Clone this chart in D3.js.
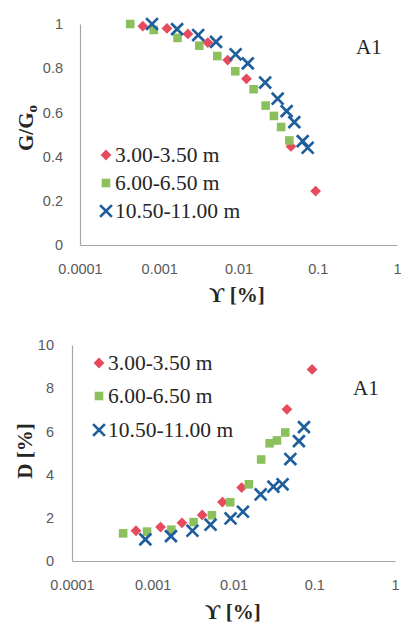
<!DOCTYPE html>
<html>
<head>
<meta charset="utf-8">
<script src="https://cdn.jsdelivr.net/npm/d3@7"></script>
<style>
  html, body { margin: 0; padding: 0; background: #ffffff; }
  svg { display: block; }
</style>
</head>
<body>
<svg id="chart" width="403" height="623"></svg>
<script>
// ---------------- data ----------------
const seriesNames = ["3.00-3.50 m", "6.00-6.50 m", "10.50-11.00 m"];
const panelLabel = "A1";

const xTickValues = [0.0001, 0.001, 0.01, 0.1, 1];
const xTickLabels = ["0.0001", "0.001", "0.01", "0.1", "1"];
const ggoTickValues = [0, 0.2, 0.4, 0.6, 0.8, 1];
const ggoTickLabels = ["0", "0.2", "0.4", "0.6", "0.8", "1"];
const dTickValues = [0, 2, 4, 6, 8, 10];
const dTickLabels = ["0", "2", "4", "6", "8", "10"];

// shear strain [%]
const gamma33  = [0.00062, 0.00125, 0.0023, 0.0041, 0.0073, 0.0126, 0.0459, 0.094];
const gamma60  = [0.00043, 0.00085, 0.0017, 0.0032, 0.0054, 0.0091, 0.0155, 0.022, 0.028, 0.0345, 0.0438];
const gamma105 = [0.00081, 0.00168, 0.0031, 0.0052, 0.0092, 0.0131, 0.0217, 0.0312, 0.0405, 0.0506, 0.0646, 0.0746];

// G/G0
const ggo33  = [0.99, 0.98, 0.955, 0.916, 0.837, 0.752, 0.446, 0.244];
const ggo60  = [1.0, 0.973, 0.937, 0.902, 0.855, 0.786, 0.705, 0.631, 0.584, 0.534, 0.473];
const ggo105 = [1.0, 0.977, 0.95, 0.919, 0.863, 0.822, 0.735, 0.662, 0.606, 0.556, 0.47, 0.44];

// Damping D [%]
const damp33  = [1.4, 1.57, 1.77, 2.13, 2.73, 3.4, 7.02, 8.87];
const damp60  = [1.28, 1.36, 1.45, 1.8, 2.12, 2.72, 3.55, 4.7, 5.45, 5.58, 5.95];
const damp105 = [1.0, 1.15, 1.4, 1.68, 1.97, 2.28, 3.08, 3.44, 3.55, 4.72, 5.55, 6.2];

// ---------------- style ----------------
const colors = ["#e64b5d", "#8cc05c", "#1f5e9c"];
const shapes = ["diamond", "square", "x"];
const tickFont = "'Liberation Sans', Arial, sans-serif";
const serif = "'Liberation Serif', 'Times New Roman', 'DejaVu Serif', serif";

const svg = d3.select("#chart");

function marker(g, shape, color) {
  if (shape === "diamond") {
    g.append("path").attr("d", d3.symbol(d3.symbolSquare, 58)())
      .attr("transform", "rotate(45)").attr("fill", color);
  } else if (shape === "square") {
    g.append("path").attr("d", d3.symbol(d3.symbolSquare, 74)()).attr("fill", color);
  } else {
    const r = 5.9;
    g.append("path").attr("d", `M${-r},${-r}L${r},${r}M${-r},${r}L${r},${-r}`)
      .attr("stroke", color).attr("stroke-width", 2.7).attr("fill", "none");
  }
}

function panel(cfg) {
  const x = d3.scaleLog().domain([1e-4, 1]).range([cfg.x0, cfg.x1]);
  const y = d3.scaleLinear().domain(cfg.yDomain).range([cfg.y0, cfg.y1]);
  const g = svg.append("g");

  // x axis
  const xa = g.append("g").attr("transform", `translate(0,${cfg.y0})`)
    .call(d3.axisBottom(x).tickValues(xTickValues).tickSize(0).tickPadding(19)
      .tickFormat((d, i) => xTickLabels[i]));
  xa.select(".domain").attr("stroke", "#a6a6a6").attr("stroke-width", 1.2);
  xa.selectAll("text").attr("font-family", tickFont).attr("font-size", 14.5).attr("fill", "#595959");

  // y axis
  const ya = g.append("g").attr("transform", `translate(${cfg.x0},0)`)
    .call(d3.axisLeft(y).tickValues(cfg.yTicks).tickSize(0).tickPadding(cfg.yPad)
      .tickFormat((d, i) => cfg.yLabels[i]));
  ya.select(".domain").attr("stroke", "#a6a6a6").attr("stroke-width", 1.2);
  ya.selectAll("text").attr("font-family", tickFont).attr("font-size", 14.5).attr("fill", "#595959");

  // points
  cfg.series.forEach((s, k) => {
    s.xs.forEach((xv, i) => {
      const m = g.append("g").attr("transform", `translate(${x(xv)},${y(s.ys[i])})`);
      marker(m, shapes[k], colors[k]);
    });
  });

  // legend
  seriesNames.forEach((name, k) => {
    const ly = cfg.legY[k];
    const m = g.append("g").attr("transform", `translate(${cfg.legX},${ly})`);
    marker(m, shapes[k], colors[k]);
    g.append("text").attr("x", cfg.legX + 9).attr("y", ly + 7)
      .attr("font-family", serif).attr("font-size", 21.5).attr("fill", "#262626")
      .text(name);
  });

  // panel label
  g.append("text").attr("x", cfg.labX).attr("y", cfg.labY)
    .attr("font-family", serif).attr("font-size", 21).attr("fill", "#262626")
    .text(panelLabel);

  // x title
  g.append("text").attr("x", cfg.xtX).attr("y", cfg.xtY).attr("text-anchor", "middle")
    .attr("font-family", serif).attr("font-size", 21).attr("font-weight", "bold").attr("fill", "#262626")
    .text("ϒ [%]");

  // y title
  const yt = g.append("text").attr("transform", `translate(${cfg.ytX},${cfg.ytY}) rotate(-90)`)
    .attr("text-anchor", "middle")
    .attr("font-family", serif).attr("font-size", 21).attr("font-weight", "bold").attr("fill", "#262626");
  cfg.yTitle(yt);
}

panel({
  x0: 80, x1: 397, y0: 245, y1: 24, yDomain: [0, 1],
  yTicks: ggoTickValues, yLabels: ggoTickLabels, yPad: 17,
  series: [
    { xs: gamma33, ys: ggo33 },
    { xs: gamma60, ys: ggo60 },
    { xs: gamma105, ys: ggo105 }
  ],
  legX: 106, legY: [155, 183, 211],
  labX: 356, labY: 54,
  xtX: 237, xtY: 302,
  ytX: 33, ytY: 128,
  yTitle: t => {
    t.append("tspan").text("G/G");
    t.append("tspan").attr("font-size", 15).attr("dy", 4).text("o");
  }
});

panel({
  x0: 72, x1: 395, y0: 561, y1: 345, yDomain: [0, 10],
  yTicks: dTickValues, yLabels: dTickLabels, yPad: 18,
  series: [
    { xs: gamma33, ys: damp33 },
    { xs: gamma60, ys: damp60 },
    { xs: gamma105, ys: damp105 }
  ],
  legX: 99, legY: [363, 396, 430],
  labX: 353, labY: 395,
  xtX: 233, xtY: 619,
  ytX: 32, ytY: 451,
  yTitle: t => { t.text("D [%]"); }
});
</script>
</body>
</html>
